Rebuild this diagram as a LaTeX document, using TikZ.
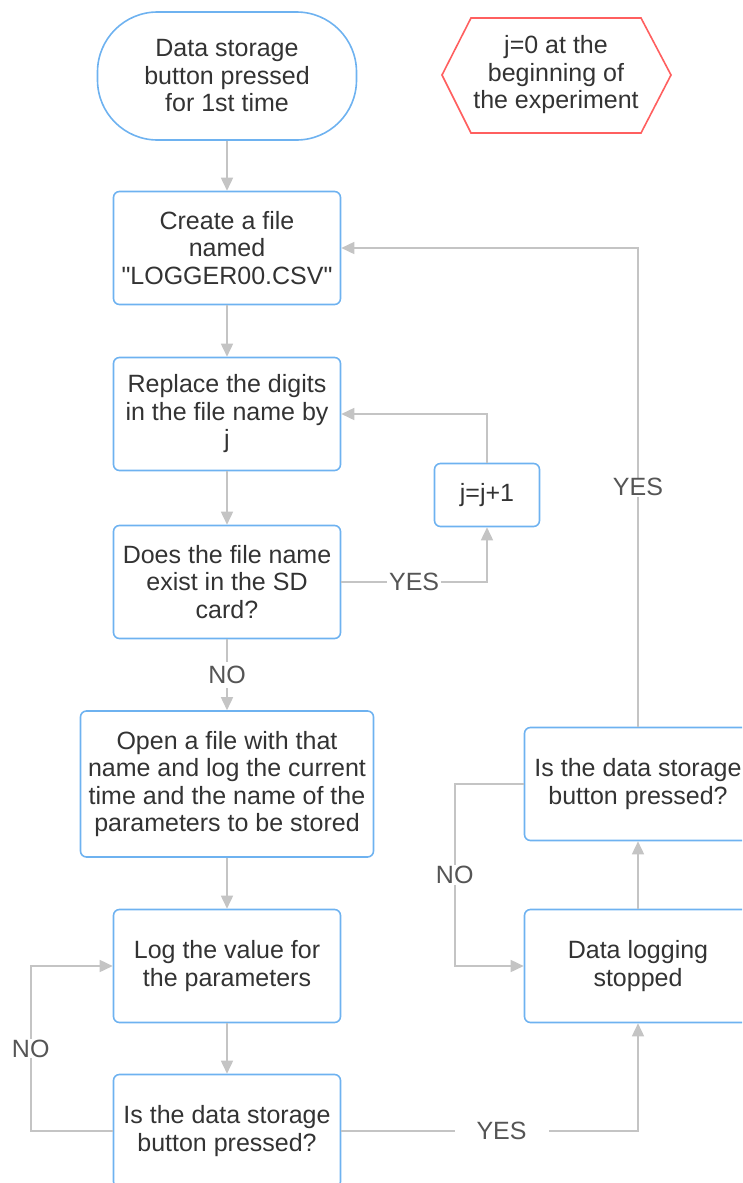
\documentclass[tikz,border=0pt]{standalone}
\usepackage{fontspec}
\setmainfont{Liberation Sans}
\usetikzlibrary{arrows.meta}
\definecolor{boxblue}{RGB}{110,178,240}
\definecolor{linegray}{RGB}{196,196,196}
\definecolor{notered}{RGB}{255,95,95}
\definecolor{txtgray}{RGB}{51,51,51}
\definecolor{labgray}{RGB}{85,85,85}
\tikzset{
  stepbox/.style={draw=boxblue, line width=1.6pt, rounded corners=6pt,
    minimum width=227pt, minimum height=113pt, align=center,
    text=txtgray, font=\fontsize{25}{27.5}\selectfont},
  startbox/.style={stepbox, rounded corners=60pt, minimum width=259pt, minimum height=128pt},
  flow/.style={draw=linegray, line width=1.6pt, -{Triangle[width=12pt,length=13pt]}},
  lab/.style={fill=white, text=labgray, inner xsep=2pt, inner ysep=1pt,
    font=\fontsize{25}{27}\selectfont}
}
\begin{document}
\begin{tikzpicture}[x=1pt,y=-1pt]
\useasboundingbox (0,0) rectangle (742,1183);
\clip (0,0) rectangle (742,1183);
% left column
\node[startbox] (start) at (227,76) {Data storage\\button pressed\\for 1st time};
\node[stepbox] (create) at (227,248) {Create a file\\named\\\textquotedbl LOGGER00.CSV\textquotedbl};
\node[stepbox] (replace) at (227,414) {Replace the digits\\in the file name by\\j};
\node[stepbox] (exists) at (227,582) {Does the file name\\exist in the SD\\card?};
\node[stepbox, minimum width=293pt, minimum height=146pt] (openfile) at (227,784)
  {Open a file with that\\name and log the current\\time and the name of the\\parameters to be stored};
\node[stepbox] (logval) at (227,966) {Log the value for\\the parameters};
\node[stepbox] (askA) at (227,1131) {Is the data storage\\button pressed?};
% right column
\node[stepbox, minimum width=105pt, minimum height=63pt] (incr) at (487,495) {j=j+1};
\node[stepbox] (askB) at (638,784) {Is the data storage\\button pressed?};
\node[stepbox] (stopped) at (638,966) {Data logging\\stopped};
% note
\node[text=txtgray, align=center, font=\fontsize{25}{27.5}\selectfont] (note) at (556,75)
  {j=0 at the\\beginning of\\the experiment};
\draw[notered, line width=1.6pt] (442,75) -- (471,18) -- (641,18) -- (671,75)
  -- (641,133) -- (471,133) -- cycle;
% connectors
\draw[flow] (start) -- (create);
\draw[flow] (create) -- (replace);
\draw[flow] (replace) -- (exists);
\draw[flow] (exists) -- node[lab, inner ysep=4pt]{NO} (openfile);
\draw[flow] (openfile) -- (logval);
\draw[flow] (logval) -- (askA);
\draw[flow] (exists.east) -| node[lab, pos=0.25]{YES} (incr.south);
\draw[flow] (incr.north) |- (replace.east);
\draw[flow] (askA.west) -- ++(-82,0) |- node[lab, pos=0.25]{NO} (logval.west);
\draw[flow] (askA.east) -| node[lab, pos=0.27, inner xsep=22pt]{YES} (stopped.south);
\draw[flow] (stopped) -- (askB);
\draw[flow] (askB.west) -- ++(-69,0) |- node[lab, pos=0.25]{NO} (stopped.west);
\draw[flow] (askB.north) |- node[lab, pos=0.25]{YES} (create.east);
\end{tikzpicture}
\end{document}
